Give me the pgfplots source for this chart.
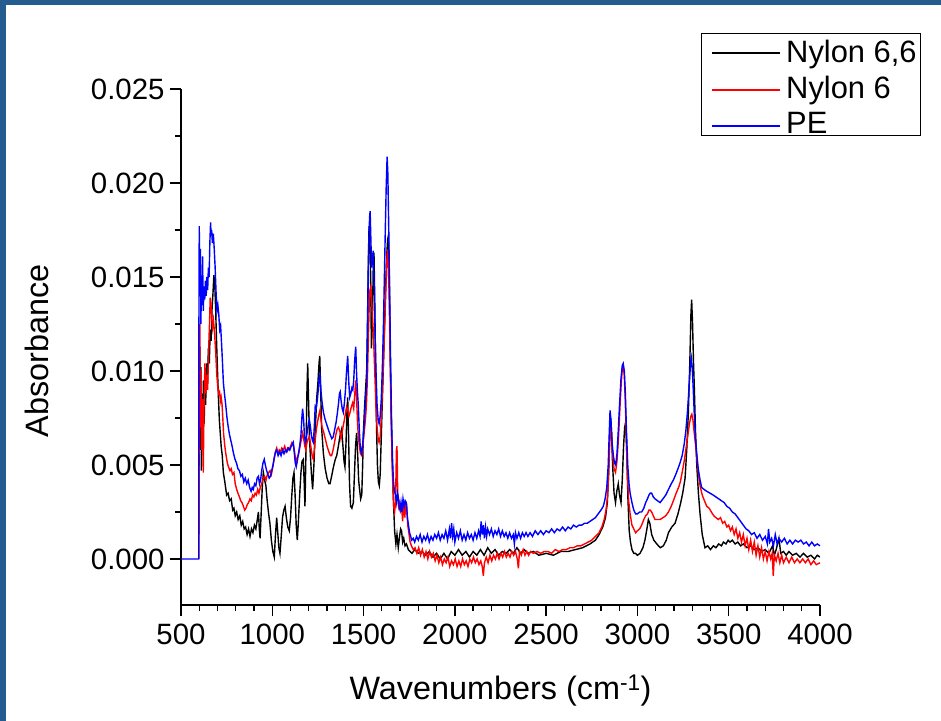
\documentclass[border=0pt]{standalone}
\usepackage{fontspec}
\setmainfont{Liberation Sans}
\usepackage{pgfplots}
\pgfplotsset{compat=1.18}
\definecolor{frameblue}{RGB}{37,92,143}

\begin{document}
\begin{tikzpicture}
% background and frame
\fill[frameblue] (0bp,0bp) rectangle (941bp,721bp);
\fill[white] (6bp,0bp) rectangle (941bp,716bp);

\begin{axis}[
  at={(181bp,116bp)}, anchor=south west,
  scale only axis, width=639bp, height=516bp,
  xmin=500, xmax=4000, ymin=-0.002447, ymax=0.025,
  axis x line*=bottom, axis y line*=left,
  axis line style={line width=1.3bp, -},
  every tick/.append style={line width=1.3bp, black},
  tick align=outside,
  major tick length=11bp, minor tick length=6bp,
  xtick={500,1000,...,4000}, minor x tick num=4,
  ytick={0,0.005,0.010,0.015,0.020,0.025}, minor y tick num=1,
  scaled y ticks=false,
  /pgf/number format/assume math mode=true,
  xticklabel style={/pgf/number format/1000 sep={}, yshift=-4bp},
  yticklabel style={/pgf/number format/.cd, fixed, fixed zerofill, precision=3, /tikz/xshift=-2bp},
  tick label style={font=\fontsize{29.5}{33}\selectfont},
  xlabel={Wavenumbers (cm\textsuperscript{-1})},
  ylabel={Absorbance},
  label style={font=\fontsize{32.5}{37}\selectfont},
  xlabel style={at={(axis description cs:0.5,-0.165)}, anchor=center},
  ylabel style={at={(axis description cs:-0.225,0.492)}, anchor=center},
]

% Nylon 6,6
\addplot[black, line width=1.4bp] coordinates {
(597,0.0000) (600,0.0080) (603,0.0113) (606,0.0058) (609,0.0102) (612,0.0047) (615,0.0088) (619,0.0063)
(623,0.0095) (627,0.0072) (631,0.0099) (635,0.0082) (640,0.0104) (645,0.0093) (650,0.0112) (655,0.0104)
(660,0.0122) (665,0.0116) (670,0.0133) (675,0.0141) (680,0.0151) (685,0.0146) (690,0.0132) (695,0.0115)
(700,0.0100) (705,0.0086) (710,0.0074) (715,0.0067) (720,0.0060) (726,0.0055) (732,0.0046) (740,0.0041)
(750,0.0034) (758,0.0035) (766,0.0031) (775,0.0032) (783,0.0026) (790,0.0027) (797,0.0023) (805,0.0025)
(813,0.0021) (822,0.0023) (830,0.0018) (838,0.0020) (846,0.0016) (854,0.0017) (862,0.0013) (870,0.0016)
(878,0.0012) (886,0.0016) (894,0.0014) (902,0.0018) (910,0.0016) (918,0.0021) (924,0.0025) (929,0.0016)
(933,0.0011) (939,0.0024) (945,0.0038) (951,0.0046) (958,0.0042) (965,0.0039) (972,0.0031) (980,0.0024)
(987,0.0019) (995,0.0010) (1003,0.0004) (1011,0.0001) (1017,0.0012) (1024,0.0022) (1030,0.0014) (1036,0.0006)
(1042,0.0003) (1049,0.0012) (1056,0.0022) (1063,0.0026) (1070,0.0028) (1077,0.0022) (1085,0.0017) (1093,0.0015)
(1100,0.0022) (1107,0.0034) (1113,0.0043) (1119,0.0046) (1125,0.0034) (1131,0.0018) (1137,0.0010) (1143,0.0020)
(1150,0.0034) (1157,0.0046) (1163,0.0052) (1170,0.0053) (1175,0.0040) (1179,0.0028) (1185,0.0060) (1190,0.0090)
(1194,0.0104) (1199,0.0083) (1203,0.0066) (1207,0.0058) (1214,0.0046) (1221,0.0037) (1228,0.0050) (1236,0.0070)
(1243,0.0085) (1250,0.0094) (1256,0.0104) (1260,0.0108) (1265,0.0090) (1270,0.0070) (1280,0.0056) (1290,0.0048)
(1300,0.0043) (1310,0.0040) (1316,0.0040) (1325,0.0044) (1335,0.0049) (1345,0.0053) (1353,0.0055) (1362,0.0060)
(1370,0.0065) (1380,0.0069) (1387,0.0060) (1393,0.0052) (1398,0.0049) (1404,0.0062) (1409,0.0078) (1413,0.0086)
(1418,0.0065) (1423,0.0040) (1429,0.0028) (1436,0.0027) (1444,0.0030) (1450,0.0045) (1456,0.0060) (1462,0.0067)
(1468,0.0055) (1473,0.0042) (1477,0.0038) (1484,0.0032) (1490,0.0034) (1495,0.0050) (1499,0.0067) (1505,0.0080)
(1512,0.0092) (1517,0.0100) (1522,0.0130) (1526,0.0158) (1530,0.0177) (1534,0.0172) (1538,0.0155) (1543,0.0112)
(1548,0.0125) (1553,0.0155) (1557,0.0163) (1561,0.0140) (1566,0.0100) (1571,0.0070) (1576,0.0050) (1581,0.0041)
(1586,0.0039) (1591,0.0045) (1597,0.0065) (1603,0.0085) (1609,0.0105) (1615,0.0125) (1621,0.0145) (1627,0.0162)
(1632,0.0170) (1636,0.0172) (1641,0.0150) (1646,0.0110) (1651,0.0080) (1656,0.0055) (1663,0.0033) (1670,0.0015)
(1677,0.0008) (1683,0.0013) (1690,0.0006) (1697,0.0012) (1703,0.0016) (1708,0.0015) (1714,0.0009) (1720,0.0011)
(1727,0.0007) (1735,0.0008) (1745,0.0005) (1755,0.0004) (1765,0.0003) (1780,0.0005) (1800,0.0003) (1820,0.0004)
(1840,0.0002) (1860,0.0004) (1880,0.0001) (1900,0.0003) (1920,0.0000) (1940,0.0003) (1960,0.0000) (1980,0.0004)
(2000,0.0002) (2020,0.0005) (2040,0.0002) (2060,0.0004) (2080,0.0001) (2100,0.0004) (2120,0.0002) (2140,0.0005)
(2160,0.0002) (2180,0.0006) (2200,0.0003) (2220,0.0005) (2240,0.0002) (2260,0.0004) (2280,0.0003) (2300,0.0005)
(2320,0.0003) (2340,0.0006) (2360,0.0003) (2380,0.0005) (2400,0.0003) (2430,0.0004) (2460,0.0002) (2500,0.0003)
(2540,0.0002) (2580,0.0004) (2620,0.0004) (2660,0.0005) (2700,0.0006) (2740,0.0008) (2770,0.0010) (2790,0.0013)
(2810,0.0017) (2825,0.0022) (2835,0.0030) (2842,0.0045) (2848,0.0065) (2853,0.0075) (2858,0.0068) (2864,0.0050)
(2872,0.0035) (2880,0.0030) (2887,0.0036) (2895,0.0040) (2902,0.0034) (2910,0.0030) (2917,0.0042) (2924,0.0060)
(2930,0.0070) (2936,0.0073) (2942,0.0055) (2948,0.0032) (2955,0.0015) (2962,0.0009) (2970,0.0005) (2980,0.0003)
(2990,0.0003) (3000,0.0002) (3014,0.0003) (3030,0.0006) (3041,0.0010) (3052,0.0016) (3060,0.0021) (3068,0.0019)
(3078,0.0013) (3090,0.0010) (3106,0.0008) (3125,0.0006) (3142,0.0007) (3158,0.0010) (3170,0.0014) (3188,0.0017)
(3206,0.0019) (3222,0.0024) (3235,0.0029) (3248,0.0035) (3261,0.0043) (3270,0.0058) (3279,0.0078) (3287,0.0105)
(3293,0.0130) (3297,0.0138) (3302,0.0125) (3307,0.0105) (3312,0.0090) (3318,0.0068) (3325,0.0050) (3334,0.0035)
(3343,0.0024) (3355,0.0013) (3370,0.0006) (3385,0.0007) (3400,0.0005) (3416,0.0007) (3430,0.0006) (3445,0.0008)
(3460,0.0007) (3471,0.0009) (3485,0.0008) (3497,0.0010) (3507,0.0009) (3520,0.0010) (3535,0.0008) (3550,0.0009)
(3565,0.0007) (3580,0.0008) (3600,0.0006) (3620,0.0007) (3640,0.0005) (3660,0.0006) (3680,0.0004) (3700,0.0005)
(3720,0.0003) (3740,0.0007) (3750,0.0002) (3760,0.0005) (3775,0.0011) (3785,0.0003) (3800,0.0004) (3815,0.0002)
(3830,0.0004) (3850,0.0002) (3870,0.0003) (3890,0.0001) (3910,0.0003) (3930,0.0001) (3950,0.0002) (3970,0.0000)
(3985,0.0002) (4000,0.0001)
};

% Nylon 6
\addplot[red, line width=1.4bp] coordinates {
(597,0.0000) (600,0.0090) (603,0.0125) (606,0.0070) (609,0.0100) (613,0.0058) (617,0.0085) (622,0.0046)
(626,0.0080) (631,0.0104) (636,0.0088) (641,0.0098) (646,0.0090) (651,0.0110) (656,0.0125) (660,0.0139)
(664,0.0136) (668,0.0128) (673,0.0123) (678,0.0127) (684,0.0120) (690,0.0110) (696,0.0098) (701,0.0092)
(706,0.0088) (711,0.0089) (716,0.0084) (720,0.0086) (725,0.0082) (729,0.0075) (733,0.0067) (740,0.0060)
(747,0.0055) (754,0.0051) (760,0.0049) (768,0.0047) (775,0.0048) (782,0.0045) (790,0.0046) (797,0.0040)
(805,0.0037) (812,0.0035) (820,0.0033) (827,0.0031) (834,0.0030) (842,0.0028) (849,0.0026) (856,0.0027)
(863,0.0029) (870,0.0030) (878,0.0032) (885,0.0031) (892,0.0034) (899,0.0033) (906,0.0035) (913,0.0034)
(920,0.0037) (927,0.0035) (934,0.0038) (942,0.0040) (950,0.0043) (958,0.0044) (966,0.0042) (973,0.0045)
(980,0.0046) (988,0.0047) (995,0.0045) (1003,0.0049) (1010,0.0053) (1017,0.0057) (1024,0.0059) (1031,0.0056)
(1038,0.0058) (1045,0.0057) (1052,0.0059) (1060,0.0058) (1068,0.0060) (1076,0.0057) (1084,0.0059) (1092,0.0058)
(1100,0.0060) (1108,0.0062) (1115,0.0061) (1122,0.0057) (1130,0.0051) (1137,0.0054) (1145,0.0056) (1152,0.0060)
(1160,0.0064) (1166,0.0067) (1172,0.0064) (1178,0.0060) (1184,0.0058) (1190,0.0062) (1197,0.0064) (1203,0.0065)
(1208,0.0062) (1214,0.0058) (1220,0.0054) (1225,0.0053) (1232,0.0060) (1238,0.0066) (1243,0.0070) (1250,0.0074)
(1256,0.0077) (1261,0.0079) (1267,0.0074) (1273,0.0070) (1280,0.0068) (1290,0.0064) (1300,0.0060) (1310,0.0057)
(1318,0.0055) (1325,0.0055) (1333,0.0058) (1341,0.0062) (1348,0.0066) (1355,0.0069) (1362,0.0070) (1370,0.0068)
(1376,0.0064) (1380,0.0066) (1387,0.0070) (1393,0.0073) (1400,0.0077) (1407,0.0081) (1414,0.0079) (1420,0.0076)
(1426,0.0078) (1433,0.0081) (1440,0.0083) (1446,0.0080) (1452,0.0088) (1457,0.0095) (1462,0.0085) (1467,0.0072)
(1471,0.0066) (1477,0.0060) (1483,0.0056) (1490,0.0055) (1496,0.0060) (1502,0.0066) (1508,0.0072) (1513,0.0078)
(1517,0.0085) (1522,0.0100) (1527,0.0120) (1531,0.0135) (1535,0.0143) (1540,0.0145) (1544,0.0138) (1549,0.0128)
(1554,0.0120) (1558,0.0108) (1563,0.0095) (1568,0.0080) (1574,0.0070) (1580,0.0064) (1585,0.0062) (1591,0.0065)
(1597,0.0075) (1603,0.0090) (1609,0.0105) (1615,0.0122) (1621,0.0140) (1626,0.0155) (1630,0.0164) (1635,0.0160)
(1640,0.0140) (1645,0.0110) (1650,0.0080) (1655,0.0058) (1660,0.0040) (1665,0.0028) (1670,0.0025) (1675,0.0030)
(1680,0.0058) (1683,0.0060) (1687,0.0035) (1692,0.0028) (1697,0.0030) (1702,0.0026) (1708,0.0028) (1714,0.0020)
(1720,0.0031) (1726,0.0022) (1731,0.0030) (1736,0.0029) (1742,0.0018) (1748,0.0014) (1755,0.0009) (1762,0.0007)
(1772,0.0005) (1782,0.0006) (1792,0.0003) (1802,0.0006) (1812,0.0002) (1822,0.0005) (1832,0.0001) (1842,0.0004)
(1852,0.0000) (1862,0.0004) (1872,0.0001) (1882,0.0003) (1892,-0.0001) (1902,0.0002) (1912,-0.0002) (1922,0.0001)
(1932,-0.0003) (1942,0.0000) (1952,-0.0002) (1962,0.0001) (1972,-0.0004) (1982,-0.0001) (1992,-0.0003) (2002,0.0000)
(2012,-0.0004) (2022,-0.0001) (2032,-0.0004) (2042,0.0000) (2052,-0.0003) (2062,-0.0001) (2072,-0.0004) (2082,0.0000)
(2092,-0.0002) (2102,0.0001) (2112,-0.0002) (2122,0.0000) (2132,-0.0003) (2142,-0.0001) (2150,-0.0004) (2156,-0.0009)
(2162,-0.0002) (2172,0.0001) (2182,-0.0002) (2192,0.0002) (2202,-0.0001) (2212,0.0002) (2222,0.0000) (2232,0.0003)
(2242,0.0000) (2252,0.0003) (2262,0.0001) (2272,0.0004) (2282,0.0001) (2292,0.0003) (2302,0.0001) (2312,0.0004)
(2322,0.0002) (2332,0.0004) (2342,0.0000) (2348,-0.0005) (2354,0.0004) (2364,0.0002) (2374,0.0005) (2384,0.0002)
(2394,0.0004) (2404,0.0002) (2414,0.0004) (2430,0.0003) (2450,0.0004) (2470,0.0003) (2490,0.0004) (2510,0.0004)
(2530,0.0003) (2550,0.0005) (2570,0.0004) (2590,0.0005) (2610,0.0005) (2630,0.0006) (2650,0.0006) (2670,0.0007)
(2690,0.0007) (2710,0.0008) (2730,0.0009) (2750,0.0010) (2770,0.0012) (2790,0.0014) (2805,0.0017) (2818,0.0021)
(2828,0.0026) (2836,0.0033) (2842,0.0045) (2848,0.0062) (2853,0.0070) (2858,0.0066) (2864,0.0055) (2872,0.0048)
(2880,0.0046) (2888,0.0052) (2896,0.0064) (2904,0.0080) (2911,0.0093) (2917,0.0101) (2922,0.0103) (2928,0.0098)
(2933,0.0085) (2939,0.0065) (2945,0.0045) (2952,0.0031) (2960,0.0024) (2970,0.0018) (2980,0.0016) (2990,0.0014)
(3000,0.0015) (3012,0.0016) (3023,0.0018) (3035,0.0021) (3045,0.0023) (3055,0.0024) (3063,0.0026) (3070,0.0026)
(3078,0.0025) (3087,0.0023) (3096,0.0021) (3110,0.0021) (3124,0.0021) (3140,0.0022) (3155,0.0023) (3170,0.0025)
(3185,0.0028) (3197,0.0031) (3212,0.0035) (3225,0.0038) (3235,0.0041) (3245,0.0046) (3256,0.0052) (3265,0.0058)
(3275,0.0065) (3285,0.0072) (3293,0.0076) (3298,0.0077) (3304,0.0074) (3310,0.0068) (3317,0.0062) (3325,0.0054)
(3333,0.0046) (3343,0.0039) (3355,0.0034) (3367,0.0031) (3380,0.0028) (3393,0.0027) (3405,0.0025) (3418,0.0023)
(3430,0.0022) (3443,0.0021) (3455,0.0022) (3467,0.0019) (3478,0.0020) (3490,0.0017) (3500,0.0018) (3510,0.0015)
(3520,0.0017) (3530,0.0013) (3540,0.0016) (3550,0.0011) (3560,0.0014) (3570,0.0009) (3580,0.0013) (3590,0.0007)
(3600,0.0011) (3610,0.0005) (3620,0.0010) (3630,0.0004) (3640,0.0009) (3650,0.0002) (3660,0.0007) (3670,0.0001)
(3680,0.0006) (3690,0.0000) (3700,0.0004) (3710,-0.0001) (3720,0.0004) (3730,0.0000) (3738,0.0003) (3744,-0.0009)
(3750,0.0002) (3760,-0.0001) (3770,0.0003) (3780,-0.0002) (3790,0.0002) (3800,-0.0002) (3815,0.0001) (3830,-0.0002)
(3845,0.0001) (3860,-0.0002) (3875,0.0000) (3890,-0.0002) (3905,0.0000) (3920,-0.0002) (3935,0.0000) (3950,-0.0003)
(3965,-0.0001) (3980,-0.0003) (4000,-0.0002)
};

% PE
\addplot[blue, line width=1.4bp] coordinates {
(500,0.0000) (597,0.0000) (598,0.0120) (600,0.0177) (603,0.0140) (606,0.0165) (609,0.0125) (612,0.0150)
(615,0.0135) (618,0.0161) (622,0.0132) (626,0.0145) (630,0.0138) (634,0.0148) (638,0.0140) (642,0.0150)
(646,0.0143) (650,0.0155) (654,0.0150) (658,0.0168) (662,0.0179) (665,0.0172) (668,0.0175) (672,0.0168)
(677,0.0173) (682,0.0165) (687,0.0155) (692,0.0142) (697,0.0132) (702,0.0135) (707,0.0130) (712,0.0122)
(717,0.0124) (722,0.0115) (727,0.0105) (732,0.0094) (738,0.0088) (745,0.0082) (752,0.0075) (759,0.0070)
(766,0.0066) (773,0.0063) (780,0.0060) (788,0.0056) (796,0.0053) (804,0.0051) (812,0.0048) (820,0.0047)
(828,0.0044) (836,0.0045) (844,0.0041) (852,0.0043) (860,0.0040) (868,0.0042) (876,0.0038) (884,0.0036)
(890,0.0038) (896,0.0037) (903,0.0040) (910,0.0039) (917,0.0043) (924,0.0044) (930,0.0040) (936,0.0042)
(942,0.0047) (949,0.0051) (956,0.0053) (962,0.0050) (969,0.0047) (976,0.0045) (983,0.0043) (990,0.0044)
(997,0.0047) (1004,0.0050) (1011,0.0054) (1018,0.0057) (1024,0.0058) (1032,0.0055) (1040,0.0057) (1048,0.0055)
(1056,0.0058) (1064,0.0056) (1072,0.0058) (1080,0.0057) (1088,0.0059) (1096,0.0058) (1104,0.0060) (1110,0.0061)
(1115,0.0062) (1121,0.0056) (1126,0.0051) (1131,0.0049) (1137,0.0052) (1143,0.0056) (1150,0.0060) (1157,0.0066)
(1162,0.0075) (1166,0.0080) (1171,0.0075) (1176,0.0066) (1181,0.0062) (1186,0.0064) (1192,0.0068) (1198,0.0072)
(1203,0.0074) (1208,0.0071) (1214,0.0066) (1220,0.0063) (1225,0.0062) (1230,0.0070) (1235,0.0081) (1240,0.0080)
(1246,0.0084) (1252,0.0090) (1257,0.0096) (1261,0.0098) (1266,0.0090) (1272,0.0084) (1280,0.0078) (1290,0.0074)
(1300,0.0071) (1310,0.0068) (1318,0.0066) (1326,0.0064) (1334,0.0065) (1342,0.0069) (1350,0.0073) (1357,0.0078)
(1363,0.0083) (1368,0.0088) (1372,0.0089) (1377,0.0084) (1383,0.0080) (1389,0.0078) (1395,0.0083) (1401,0.0090)
(1407,0.0100) (1413,0.0108) (1419,0.0094) (1424,0.0086) (1430,0.0088) (1436,0.0091) (1441,0.0090) (1446,0.0095)
(1451,0.0105) (1457,0.0113) (1462,0.0098) (1467,0.0088) (1471,0.0082) (1476,0.0070) (1481,0.0061) (1486,0.0057)
(1490,0.0056) (1496,0.0062) (1502,0.0070) (1508,0.0080) (1513,0.0088) (1517,0.0093) (1521,0.0115) (1525,0.0145)
(1529,0.0170) (1533,0.0182) (1536,0.0185) (1540,0.0170) (1544,0.0155) (1548,0.0160) (1553,0.0164) (1558,0.0145)
(1563,0.0120) (1568,0.0100) (1574,0.0082) (1580,0.0074) (1585,0.0072) (1591,0.0076) (1597,0.0085) (1603,0.0102)
(1609,0.0125) (1614,0.0150) (1619,0.0175) (1624,0.0198) (1629,0.0214) (1633,0.0205) (1638,0.0175) (1643,0.0140)
(1648,0.0105) (1653,0.0075) (1658,0.0055) (1663,0.0042) (1669,0.0036) (1675,0.0034) (1681,0.0030) (1686,0.0035)
(1690,0.0033) (1695,0.0028) (1700,0.0026) (1705,0.0030) (1710,0.0025) (1716,0.0032) (1722,0.0028) (1728,0.0031)
(1734,0.0030) (1740,0.0022) (1746,0.0018) (1752,0.0014) (1758,0.0012) (1764,0.0010) (1772,0.0011) (1780,0.0009)
(1790,0.0012) (1800,0.0010) (1810,0.0013) (1820,0.0009) (1830,0.0012) (1840,0.0010) (1850,0.0013) (1860,0.0009)
(1870,0.0012) (1880,0.0010) (1890,0.0013) (1900,0.0011) (1910,0.0014) (1920,0.0010) (1930,0.0013) (1940,0.0011)
(1950,0.0015) (1960,0.0010) (1970,0.0016) (1976,0.0011) (1982,0.0019) (1988,0.0012) (1994,0.0016) (2000,0.0009)
(2010,0.0014) (2020,0.0011) (2030,0.0015) (2040,0.0010) (2050,0.0013) (2060,0.0010) (2070,0.0014) (2080,0.0011)
(2090,0.0013) (2100,0.0010) (2110,0.0014) (2120,0.0011) (2130,0.0015) (2138,0.0012) (2144,0.0020) (2150,0.0013)
(2156,0.0018) (2162,0.0011) (2168,0.0017) (2174,0.0012) (2180,0.0016) (2190,0.0013) (2200,0.0016) (2210,0.0012)
(2220,0.0015) (2230,0.0013) (2240,0.0016) (2250,0.0012) (2260,0.0015) (2270,0.0012) (2280,0.0014) (2290,0.0011)
(2300,0.0014) (2310,0.0011) (2320,0.0013) (2326,0.0008) (2332,0.0014) (2340,0.0011) (2350,0.0014) (2360,0.0011)
(2370,0.0014) (2380,0.0012) (2390,0.0014) (2400,0.0012) (2412,0.0014) (2425,0.0012) (2440,0.0015) (2455,0.0013)
(2470,0.0015) (2485,0.0013) (2500,0.0015) (2515,0.0014) (2530,0.0016) (2545,0.0014) (2560,0.0016) (2575,0.0015)
(2590,0.0017) (2605,0.0015) (2620,0.0017) (2635,0.0016) (2650,0.0018) (2665,0.0017) (2680,0.0018) (2695,0.0018)
(2710,0.0019) (2725,0.0019) (2740,0.0020) (2755,0.0021) (2770,0.0022) (2785,0.0024) (2800,0.0026) (2813,0.0028)
(2823,0.0032) (2832,0.0038) (2840,0.0050) (2846,0.0068) (2850,0.0079) (2855,0.0074) (2861,0.0062) (2868,0.0055)
(2875,0.0051) (2881,0.0050) (2888,0.0056) (2895,0.0068) (2902,0.0082) (2910,0.0096) (2917,0.0103) (2922,0.0104)
(2928,0.0100) (2934,0.0088) (2940,0.0068) (2947,0.0050) (2954,0.0040) (2960,0.0035) (2970,0.0030) (2980,0.0026)
(2990,0.0024) (3000,0.0024) (3012,0.0025) (3023,0.0025) (3035,0.0027) (3045,0.0030) (3055,0.0032) (3063,0.0034)
(3070,0.0035) (3078,0.0035) (3087,0.0033) (3096,0.0032) (3110,0.0031) (3124,0.0030) (3140,0.0032) (3155,0.0034)
(3170,0.0037) (3185,0.0040) (3197,0.0042) (3210,0.0045) (3222,0.0048) (3233,0.0051) (3245,0.0055) (3256,0.0061)
(3265,0.0068) (3273,0.0077) (3280,0.0087) (3287,0.0098) (3292,0.0105) (3295,0.0107) (3300,0.0102) (3305,0.0092)
(3311,0.0078) (3318,0.0064) (3325,0.0056) (3333,0.0048) (3343,0.0042) (3352,0.0038) (3365,0.0037) (3380,0.0036)
(3398,0.0035) (3415,0.0034) (3430,0.0033) (3445,0.0032) (3460,0.0031) (3475,0.0030) (3490,0.0028) (3505,0.0027)
(3520,0.0025) (3535,0.0024) (3550,0.0022) (3565,0.0020) (3580,0.0018) (3595,0.0016) (3610,0.0015) (3625,0.0013)
(3640,0.0014) (3655,0.0011) (3670,0.0013) (3685,0.0010) (3700,0.0012) (3712,0.0008) (3718,0.0016) (3725,0.0009)
(3735,0.0011) (3745,0.0007) (3755,0.0013) (3765,0.0008) (3775,0.0011) (3790,0.0009) (3805,0.0011) (3820,0.0008)
(3835,0.0010) (3850,0.0008) (3865,0.0010) (3880,0.0009) (3895,0.0010) (3910,0.0008) (3925,0.0009) (3940,0.0007)
(3955,0.0009) (3970,0.0007) (3985,0.0008) (4000,0.0007)
};
\end{axis}

% legend: box and keys first, then the texts
\draw[black, line width=0.8bp] (701bp,586bp) rectangle (920bp,688bp);
\draw[black, line width=1.4bp] (712bp,668bp) -- (780bp,668bp);
\draw[red, line width=1.4bp] (712bp,631bp) -- (780bp,631bp);
\draw[blue, line width=1.4bp] (712bp,595bp) -- (780bp,595bp);
\begin{scope}[every node/.style={anchor=base west, inner sep=0pt, font=\fontsize{31}{35}\selectfont}]
\node at (786bp,658bp) {Nylon 6,6};
\node at (786bp,622.5bp) {Nylon 6};
\node at (786bp,587.5bp) {PE};
\end{scope}

\pgfresetboundingbox
\path[use as bounding box] (0bp,0bp) rectangle (941bp,721bp);
\end{tikzpicture}
\end{document}
